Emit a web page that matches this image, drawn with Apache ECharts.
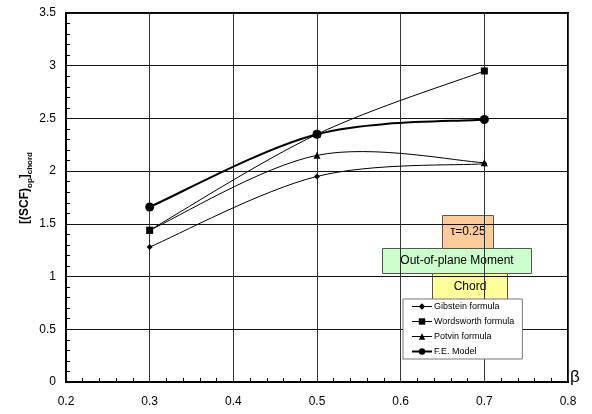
<!DOCTYPE html>
<html>
<head>
<meta charset="utf-8">
<script src="https://cdn.jsdelivr.net/npm/echarts@6/dist/echarts.min.js"></script>
<style>
  html, body { margin: 0; padding: 0; background: #fff; }
  #chart { width: 592px; height: 414px; }
</style>
</head>
<body>
<div id="chart"></div>
<script>
// Brace ratio beta and stress concentration factors (out-of-plane moment, chord side)
const beta = [0.3, 0.5, 0.7];
const gibstein = [1.28, 1.95, 2.07];
const wordsworth = [1.44, 2.35, 2.95];
const potvin = [1.44, 2.15, 2.08];
const feModel = [1.66, 2.35, 2.49];
const seriesNames = ['Gibstein formula', 'Wordsworth formula', 'Potvin formula', 'F.E. Model'];

const pairs = vals => beta.map((b, i) => [b, vals[i]]);
const FONT = 'Liberation Sans, Arial, sans-serif';

const chart = echarts.init(document.getElementById('chart'), null, { renderer: 'canvas' });

// Markers (and legend entries); the connecting curves are drawn by curveSeries
function markerSeries(name, vals, symbol, size) {
  return {
    name: name,
    type: 'line',
    data: pairs(vals),
    symbol: symbol,
    symbolSize: size,
    showSymbol: true,
    lineStyle: { color: '#000', width: 0, opacity: 0 },
    itemStyle: { color: '#000', borderWidth: 0 },
    emphasis: { disabled: true },
    z: 3,
    animation: false
  };
}

// Cardinal-spline curve through the points (tangent = (next - prev) / 6 per side)
function curveSeries(name, vals, width) {
  return {
    name: name + ' curve',
    type: 'custom',
    data: pairs(vals),
    encode: { x: 0, y: 1 },
    clip: true,
    z: 2,
    silent: true,
    animation: false,
    renderItem: function (params, api) {
      if (params.dataIndex !== 0) return null;
      const p = pairs(vals).map(d => api.coord(d));
      const n = p.length;
      const children = [];
      for (let i = 0; i < n - 1; i++) {
        const p0 = p[Math.max(i - 1, 0)], p1 = p[i], p2 = p[i + 1], p3 = p[Math.min(i + 2, n - 1)];
        children.push({
          type: 'bezierCurve',
          shape: {
            x1: p1[0], y1: p1[1], x2: p2[0], y2: p2[1],
            cpx1: p1[0] + (p2[0] - p0[0]) / 6, cpy1: p1[1] + (p2[1] - p0[1]) / 6,
            cpx2: p2[0] - (p3[0] - p1[0]) / 6, cpy2: p2[1] - (p3[1] - p1[1]) / 6
          },
          style: { stroke: '#000', lineWidth: width, fill: null }
        });
      }
      return { type: 'group', children: children };
    }
  };
}

function box(x, y, w, h, fill, text) {
  return {
    type: 'group',
    left: x, top: y,
    z: 100,
    children: [
      { type: 'rect', shape: { x: 0, y: 0, width: w, height: h },
        style: { fill: fill, stroke: '#555', lineWidth: 1 } },
      { type: 'text', x: w / 2, y: h / 2,
        style: { text: text, fill: '#000', font: '12px ' + FONT, align: 'center', verticalAlign: 'middle' } }
    ]
  };
}

const lineWidths = [1, 1, 1, 2];

chart.setOption({
  backgroundColor: '#fff',
  animation: false,
  grid: { left: 66, right: 24, top: 13, bottom: 32, show: true, borderColor: '#000', borderWidth: 2, backgroundColor: 'transparent' },
  xAxis: {
    type: 'value', min: 0.2, max: 0.8, interval: 0.1,
    axisLine: { show: true, lineStyle: { color: '#000', width: 2 } },
    axisTick: { show: false, inside: true },
    minorTick: { show: true, splitNumber: 5, length: 4, lineStyle: { color: '#000', width: 1 } },
    axisLabel: { color: '#000', fontSize: 12, fontFamily: FONT, margin: 14, formatter: v => v.toFixed(1) },
    splitLine: { show: true, lineStyle: { color: '#333', width: 1 } }
  },
  yAxis: {
    type: 'value', min: 0, max: 3.5, interval: 0.5,
    axisLine: { show: true, lineStyle: { color: '#000', width: 2 } },
    axisTick: { show: false, inside: true },
    minorTick: { show: true, splitNumber: 5, length: 4, lineStyle: { color: '#000', width: 1 } },
    axisLabel: { color: '#000', fontSize: 12, fontFamily: FONT, margin: 10, formatter: v => String(v) },
    splitLine: { show: true, lineStyle: { color: '#111', width: 1 } }
  },
  legend: {
    orient: 'vertical',
    left: 403, top: 299,
    padding: [3, 8, 3, 8],
    itemGap: 6,
    itemWidth: 20,
    itemHeight: 8,
    backgroundColor: '#fff',
    borderColor: '#777',
    borderWidth: 1,
    data: seriesNames.map((n, i) => ({ name: n, lineStyle: { color: '#000', width: lineWidths[i], opacity: 1 } })),
    textStyle: { color: '#000', fontSize: 9, fontFamily: FONT, padding: [0, 0, 0, -3] },
    selectedMode: false
  },
  graphic: [
    { type: 'text', x: 25, y: 188, rotation: Math.PI / 2, z: 100,
      style: {
        text: '{m|[(SCF)}{s|op}{m|]}{s|chord}',
        align: 'center', verticalAlign: 'middle',
        rich: {
          m: { fontSize: 12, fontWeight: 'bold', fontFamily: FONT, fill: '#000', lineHeight: 18, verticalAlign: 'middle' },
          s: { fontSize: 8, fontWeight: 'bold', fontFamily: FONT, fill: '#000', lineHeight: 18, verticalAlign: 'bottom', padding: [5, 0, 0, 0] }
        }
      } },
    box(442, 215, 51, 33, '#FFCC99', 'τ=0.25'),
    box(382, 248, 149, 25, '#CCFFCC', 'Out-of-plane Moment'),
    box(432, 273, 75, 26, '#FFFF99', 'Chord'),
    { type: 'text', left: 570, top: 369, z: 100,
      style: { text: 'β', fill: '#000', font: '17px ' + FONT } }
  ],
  series: [
    curveSeries(seriesNames[0], gibstein, lineWidths[0]),
    curveSeries(seriesNames[1], wordsworth, lineWidths[1]),
    curveSeries(seriesNames[2], potvin, lineWidths[2]),
    curveSeries(seriesNames[3], feModel, lineWidths[3]),
    markerSeries(seriesNames[0], gibstein, 'diamond', 6),
    markerSeries(seriesNames[1], wordsworth, 'rect', 7),
    markerSeries(seriesNames[2], potvin, 'triangle', 7),
    markerSeries(seriesNames[3], feModel, 'circle', 9)
  ]
});
</script>
</body>
</html>
